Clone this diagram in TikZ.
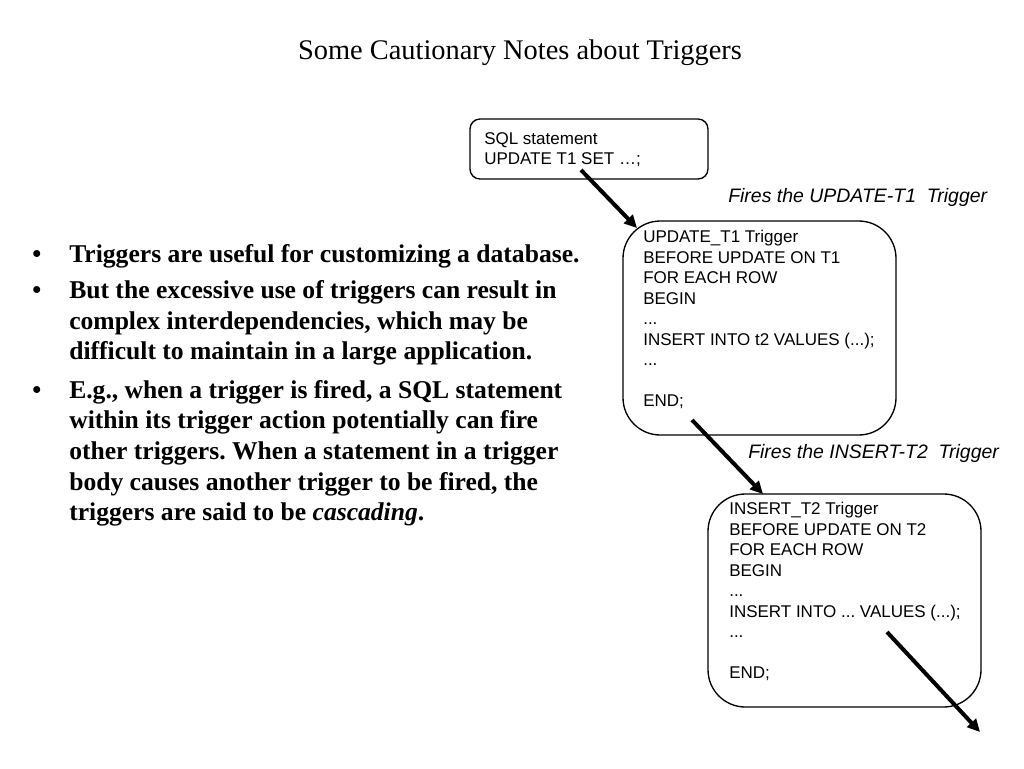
\documentclass[tikz,border=0pt]{standalone}
\usepackage{fontspec}
\setmainfont{Liberation Serif}
\newfontfamily\arialfam{Liberation Sans}
\usetikzlibrary{arrows.meta}
\frenchspacing
\begin{document}
\begin{tikzpicture}[x=0.75pt,y=-0.75pt,
  box/.style={draw=black, line width=1pt, inner sep=0pt},
  code/.style={font=\arialfam\fontsize{12.75}{15.4}\selectfont, align=left, inner sep=0pt, anchor=north west},
  firelabel/.style={font=\arialfam\itshape\fontsize{14.6}{17}\selectfont, inner sep=0pt, anchor=west},
  firearrow/.style={line width=3pt, -{Triangle[length=9.5pt,width=9pt]}},
  bullets/.style={font=\bfseries\fontsize{19.2}{22.9}\selectfont, align=left, inner sep=0pt, anchor=north west},
]
\useasboundingbox (0,0) rectangle (1024,768);

\node[font=\fontsize{21.3}{25}\selectfont, inner sep=0pt] (title) at (520,53) {Some Cautionary Notes about Triggers};

\node[bullets] (list) at (69,244) {%
\llap{\makebox[27.75pt][l]{•}}Triggers are useful for customizing a database.\\[4.5pt]
\llap{\makebox[27.75pt][l]{•}}But the excessive use of triggers can result in\\
complex interdependencies, which may be\\
difficult to maintain in a large application.\\[6pt]
\llap{\makebox[27.75pt][l]{•}}E.g., when a trigger is fired, a SQL statement\\
within its trigger action potentially can fire\\
other triggers. When a statement in a trigger\\
body causes another trigger to be fired, the\\
triggers are said to be \textit{cascading}.};

\node[box, rounded corners=7.5pt, minimum width=178.5pt, minimum height=45pt] (b1) at (589,149) {};
\node[code] (t1) at (484,132) {SQL statement\\UPDATE T1 SET …;};

\node[box, rounded corners=28pt, minimum width=204.75pt, minimum height=160.5pt] (b2) at (759.5,328) {};
\node[code] (t2) at (643,230) {UPDATE\_T1 Trigger\\
BEFORE UPDATE ON T1\\
FOR EACH ROW\\
BEGIN\\
...\\
INSERT INTO t2 VALUES (...);\\
...\\
~\\
END;};

\node[box, rounded corners=28pt, minimum width=204.75pt, minimum height=159.75pt] (b3) at (844.5,600.5) {};
\node[code] (t3) at (729,502) {INSERT\_T2 Trigger\\
BEFORE UPDATE ON T2\\
FOR EACH ROW\\
BEGIN\\
...\\
INSERT INTO ... VALUES (...);\\
...\\
~\\
END;};

\node[firelabel] (l1) at (728,197) {Fires the UPDATE-T1\ \ Trigger};
\node[firelabel] (l2) at (748,453) {Fires the INSERT-T2\ \ Trigger};

\coordinate (a1s) at (581,170);
\coordinate (a1e) at (637,228);
\coordinate (a2s) at (692,420);
\coordinate (a2e) at (763,494);
\coordinate (a3s) at (887,632);
\coordinate (a3e) at (980,732);
\draw[firearrow] (a1s) -- (a1e);
\draw[firearrow] (a2s) -- (a2e);
\draw[firearrow] (a3s) -- (a3e);
\end{tikzpicture}
\end{document}
